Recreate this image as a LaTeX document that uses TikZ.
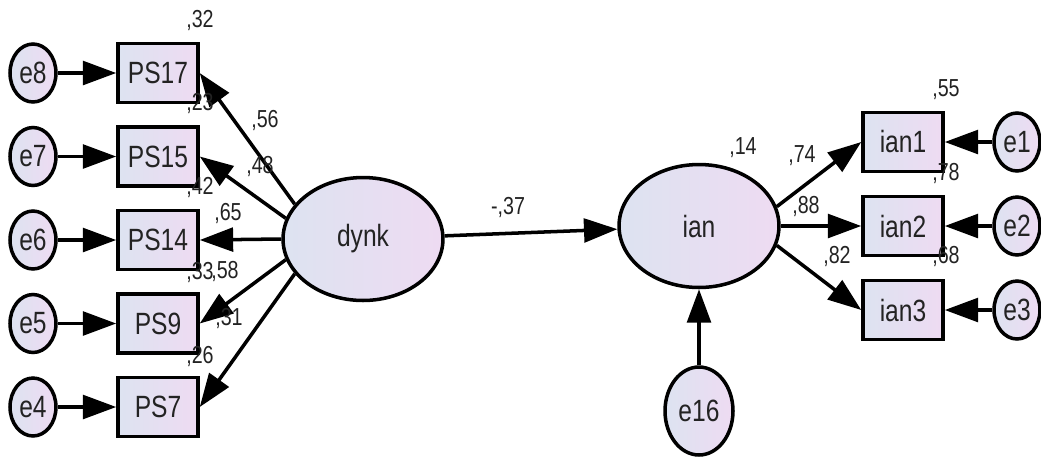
\documentclass[tikz,border=0pt]{standalone}
\usepackage{fontspec}
\newfontfamily\amosfont[FakeStretch=0.8]{Liberation Sans}
\usetikzlibrary{arrows.meta,shapes.geometric}

\definecolor{fillleft}{RGB}{221,227,241}
\definecolor{fillright}{RGB}{238,219,242}
\definecolor{textgray}{RGB}{35,35,35}

\tikzset{
	every observed/.style={draw, rectangle, inner sep=0pt, minimum width=1.6cm, minimum height=1.18cm,
		left color=fillleft, right color=fillright, font=\amosfont\fontsize{17.5}{17.5}\selectfont, text=textgray},
	every latent/.style={draw, ellipse, inner sep=0pt, minimum width=3.2cm, minimum height=2.46cm,
		left color=fillleft, right color=fillright, font=\amosfont\fontsize{17.5}{17.5}\selectfont, text=textgray},
	every error/.style={draw, ellipse, inner sep=0pt, minimum width=0.92cm, minimum height=1.16cm,
		left color=fillleft, right color=fillright, font=\amosfont\fontsize{17.5}{17.5}\selectfont, text=textgray},
	estimate/.style={inner sep=0pt, font=\amosfont\fontsize{14}{14}\selectfont, text=textgray}
}

\begin{document}
\begin{tikzpicture}[x=0.02cm, y=-0.02cm, >={Triangle[length=19pt,width=13.5pt]}, line width=2pt]

	\useasboundingbox (0,0) rectangle (1041,461);

	% latent variables
	\node [every latent/.try] (dynk) at (363,239) {dynk};
	\node [every latent/.try] (ian) at (699,226) {ian};
	\node [every error/.try, minimum width=1.36cm, minimum height=1.76cm] (e16) at (699,411) {e16};

	% indicators of dynk
	\foreach \m [count=\y] in {17,15,14,9,7}
		\node [every observed/.try] (PS\m) at (158,-10.5+83.5*\y) {PS\m};

	% errors of dynk
	\foreach \m [count=\y] in {8,7,6,5,4}
		\node [every error/.try] (e\m) at (33,-10.5+83.5*\y) {e\m};

	% indicators of ian
	\foreach \m [count=\y] in {1,2,3}
		\node [every observed/.try] (ian\m) at (903,58+84*\y) {ian\m};

	% errors of ian
	\foreach \m [count=\y] in {1,2,3}
		\node [every error/.try] (e\m) at (1017,58+84*\y) {e\m};

	% lines from errors
	\foreach \e/\m in {8/17,7/15,6/14,5/9,4/7}
		\draw [->] (e\e) -- (PS\m);
	\foreach \m in {1,2,3}
		\draw [->] (e\m) -- (ian\m);
	\draw [->] (e16) -- (ian);

	% lines from latents
	\foreach \m/\a in {17/153,15/165,14/180,9/195,7/207}
		\draw [->] (dynk.\a) -- (PS\m.east);
	\foreach \m/\a in {1/14,2/0,3/-14}
		\draw [->] (ian.\a) -- (ian\m.west);
	\draw [->] (dynk) -- (ian);

	% squared multiple correlations
	\foreach \m/\l/\x/\y in {PS17/32/200/20, PS15/23/200/103, PS14/42/200/187, PS9/33/200/272,
		PS7/26/200/356, ian/14/743/148, ian1/55/946/90, ian2/78/946/173, ian3/68/946/256}
		\node [estimate] (r2-\m) at (\x,\y) {,\l};

	% loadings
	\foreach \m/\l/\x/\y in {PS17/56/265/120, PS15/48/260/166, PS14/65/228/213, PS9/58/225/271,
		PS7/31/229/318, ian1/74/802/156, ian2/88/806/206, ian3/82/837/256}
		\node [estimate] (w-\m) at (\x,\y) {,\l};
	\node [estimate] (w-ian) at (508,207) {-,37};

\end{tikzpicture}
\end{document}
